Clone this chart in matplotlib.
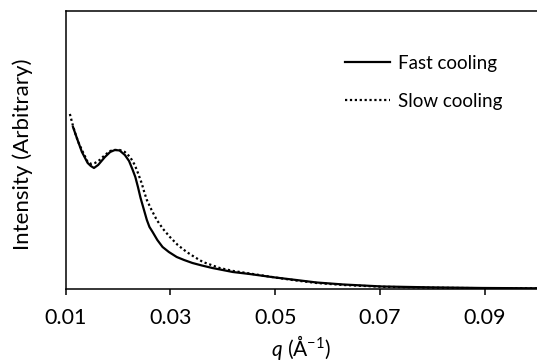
import matplotlib
matplotlib.use("Agg")
import matplotlib.pyplot as plt

# scattering data (arbitrary intensity units)
q_fast = [0.0114, 0.0122, 0.0131, 0.0142, 0.0148, 0.0154, 0.0162, 0.0175, 0.0185,
          0.0194, 0.0203, 0.0213, 0.0221, 0.0228, 0.0233, 0.0238, 0.0243, 0.0249,
          0.0255, 0.0260, 0.0266, 0.0275, 0.0285, 0.0297, 0.0312, 0.0326, 0.0342,
          0.0360, 0.0380, 0.0419, 0.0451, 0.0500, 0.0540, 0.0579, 0.0630, 0.0704,
          0.0800, 0.0895, 0.1000]
i_fast = [162, 150, 137, 126, 123, 121, 124, 132, 137,
          139, 138.5, 134, 128, 119, 112, 102, 91, 80,
          69, 62, 57, 49, 42, 37, 32, 29, 26,
          23.5, 21, 17, 15, 11.5, 9, 6.5, 4.5, 2.5,
          1.6, 1, 0.7]

q_slow = [0.0108, 0.0113, 0.0118, 0.0124, 0.0131, 0.0142, 0.0149, 0.0156, 0.0165,
          0.0175, 0.0185, 0.0194, 0.0203, 0.0213, 0.0223, 0.0232, 0.0238, 0.0245,
          0.0250, 0.0255, 0.0264, 0.0274, 0.0286, 0.0299, 0.0314, 0.0331, 0.0346,
          0.0362, 0.0378, 0.0394, 0.0420, 0.0445, 0.0500, 0.0540, 0.0579, 0.0630,
          0.0704, 0.0800, 0.0895, 0.1000]
i_slow = [175, 165, 156, 147, 139, 127, 125, 126, 129,
          134, 138, 139, 139, 137, 132, 124, 116, 106,
          97, 89, 79, 69, 60, 52, 44, 37, 32,
          27, 24, 21, 18, 16, 11.5, 8.5, 6, 4,
          2.2, 1.3, 0.8, 0.6]

x_ticks = [0.01, 0.03, 0.05, 0.07, 0.09]
x_tick_labels = ["0.01", "0.03", "0.05", "0.07", "0.09"]

plt.rcParams['font.family'] = ['Lato', 'DejaVu Sans']
plt.rcParams['mathtext.fontset'] = 'custom'
plt.rcParams['mathtext.it'] = 'Lato:italic'
plt.rcParams['mathtext.rm'] = 'Lato'

fig = plt.figure(figsize=(5.37, 3.62), dpi=100)
ax = fig.add_axes([0.1223, 0.2017, 0.8777, 0.768])

ax.plot(q_fast, i_fast, color='black', lw=1.6, label='Fast cooling')
ax.plot(q_slow, i_slow, color='black', lw=1.6, linestyle=(0, (1, 1.2)), label='Slow cooling')

ax.set_xlim(0.01, 0.1)
ax.set_ylim(0, 278)
ax.set_xticks(x_ticks)
ax.set_xticklabels(x_tick_labels)
ax.set_yticks([])
ax.tick_params(axis='x', direction='out', length=4.5, width=1.1, pad=9, labelsize=15.5)
for side in ['left', 'bottom', 'top']:
    ax.spines[side].set_linewidth(1.1)
ax.spines['right'].set_visible(False)

ax.set_ylabel("Intensity (Arbitrary)", fontsize=16)
ax.yaxis.set_label_coords(-0.069, 0.486)
ax.set_xlabel(r"$q$ (Å$^{-1}$)", fontsize=15)
ax.xaxis.set_label_coords(0.499, -0.158)

ax.legend(loc='upper left', bbox_to_anchor=(345 / 537, 1 - 55 / 362),
          bbox_transform=fig.transFigure, frameon=False, fontsize=13.5,
          handlelength=2.4, handletextpad=0.4, labelspacing=1.1, borderpad=0,
          borderaxespad=0)

fig.savefig("out.png", dpi=100)
